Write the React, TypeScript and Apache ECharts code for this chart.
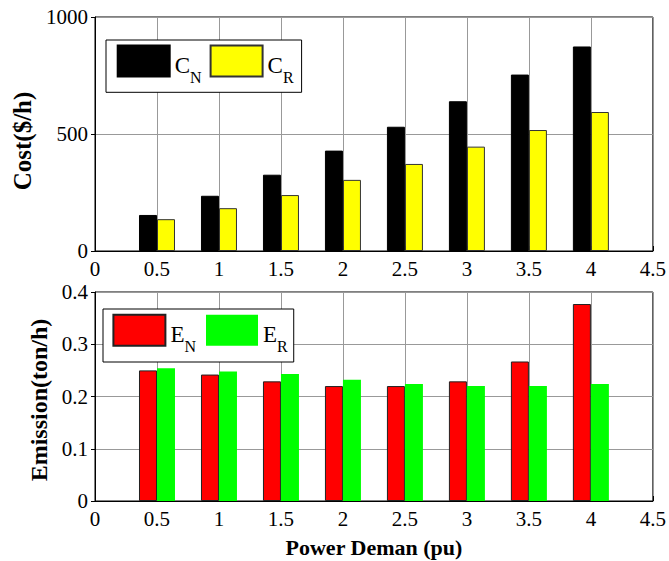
import React, { useEffect, useRef } from "react";
import * as echarts from "echarts";

const powerDemand = ["0", "0.5", "1", "1.5", "2", "2.5", "3", "3.5", "4", "4.5"];
const costN = [null, 154, 236, 326, 429, 531, 640, 754, 874, null];
const costR = [null, 136, 183, 239, 304, 372, 446, 517, 594, null];
const emissionN = [null, 0.25, 0.242, 0.229, 0.22, 0.22, 0.229, 0.267, 0.377, null];
const emissionR = [null, 0.254, 0.248, 0.243, 0.232, 0.224, 0.22, 0.22, 0.224, null];
const costTicks = { min: 0, max: 1000, interval: 500 };
const emissionTicks = { min: 0, max: 0.4, interval: 0.1 };

const FONT = "'Liberation Serif', 'Times New Roman', serif";

export default function App() {
  const ref = useRef<HTMLDivElement>(null);
  useEffect(() => {
    document.body.style.margin = "0";
    const chart = echarts.init(ref.current!, null, { renderer: "svg" });
    const richFmt = (name: string) => {
      const [a, b] = name.split("_");
      return `{m|${a}}{s|${b}}`;
    };
    const rich = {
      m: { fontSize: 23, lineHeight: 23, padding: [4, 0, 0, 0], verticalAlign: "top", fontFamily: FONT, color: "#000" },
      s: { fontSize: 16, lineHeight: 16, padding: [20, 0, 0, 0], verticalAlign: "top", fontFamily: FONT, color: "#000" },
    };
    const axisLabel = { fontFamily: FONT, fontSize: 21, color: "#000", formatter: (v: any) => String(v) };
    const xAxisBase = (gi: number, name: string) => ({
      type: "category",
      gridIndex: gi,
      data: powerDemand,
      boundaryGap: false,
      axisLine: { lineStyle: { color: "#000", width: 1 } },
      axisTick: { show: true, inside: true, length: 5, lineStyle: { color: "#000" } },
      axisLabel: { ...axisLabel, margin: 7, interval: 0 },
      splitLine: { show: true, interval: 0, lineStyle: { color: "#999", width: 1 } },
      name,
      nameLocation: "middle",
      nameGap: 35,
      nameTextStyle: { fontFamily: FONT, fontSize: 22, fontWeight: "bold", color: "#000" },
    });
    const yAxisBase = (gi: number, name: string, t: any, gap: number, size: number, pad: number[]) => ({
      type: "value",
      gridIndex: gi,
      ...t,
      axisLine: { show: true, lineStyle: { color: "#000", width: 1 } },
      axisTick: { show: true, inside: false, length: 4, lineStyle: { color: "#000" } },
      axisLabel: { ...axisLabel, margin: 7 },
      splitLine: { show: true, lineStyle: { color: "#999", width: 1 } },
      name,
      nameLocation: "middle",
      nameGap: gap,
      nameTextStyle: { fontFamily: FONT, fontSize: size, fontWeight: "bold", color: "#000", padding: pad },
    });
    const legendBase = {
      orient: "horizontal",
      itemWidth: 52,
      itemHeight: 31,
      icon: "rect",
      borderColor: "#000",
      borderWidth: 1,
      borderRadius: 0,
      backgroundColor: "#fff",
      formatter: richFmt,
      textStyle: { fontFamily: FONT, rich },
      selectedMode: false,
    };
    chart.setOption({
      animation: false,
      backgroundColor: "#fff",
      textStyle: { fontFamily: FONT },
      grid: [
        { left: 95, right: 14, top: 17, height: 234, show: true, borderColor: "#000", borderWidth: 1, backgroundColor: "transparent" },
        { left: 95, right: 14, top: 292, height: 209, show: true, borderColor: "#000", borderWidth: 1, backgroundColor: "transparent" },
      ],
      legend: [
        { ...legendBase, data: ["C_N", "C_R"], left: 106, top: 40, itemGap: 8, padding: [4.6, 8, 6.7, 10.7] },
        { ...legendBase, data: ["E_N", "E_R"], left: 103, top: 309, itemGap: 10, padding: [4.7, 6, 7.3, 9.4] },
      ],
      xAxis: [xAxisBase(0, ""), xAxisBase(1, "Power Deman (pu)")],
      yAxis: [
        yAxisBase(0, "Cost($/h)", costTicks, 59, 25, [0, 14, 0, 0]),
        yAxisBase(1, "Emission(ton/h)", emissionTicks, 42, 24, [0, 7, 0, 0]),
      ],
      series: [
        { name: "C_N", type: "bar", xAxisIndex: 0, yAxisIndex: 0, data: costN, barWidth: 18, barGap: "0%", itemStyle: { color: "#000", borderColor: "#000", borderWidth: 1 } },
        { name: "C_R", type: "bar", xAxisIndex: 0, yAxisIndex: 0, data: costR, barWidth: 18, barGap: "0%", itemStyle: { color: "#ffff00", borderColor: "#333", borderWidth: 1 } },
        { name: "E_N", type: "bar", xAxisIndex: 1, yAxisIndex: 1, data: emissionN, barWidth: 18, barGap: "0%", itemStyle: { color: "#ff0000", borderColor: "#222", borderWidth: 1 } },
        { name: "E_R", type: "bar", xAxisIndex: 1, yAxisIndex: 1, data: emissionR, barWidth: 18, barGap: "0%", itemStyle: { color: "#00ff00", borderWidth: 0 } },
      ],
    });
    return () => chart.dispose();
  }, []);
  return <div ref={ref} style={{ width: 669, height: 561 }} />;
}
